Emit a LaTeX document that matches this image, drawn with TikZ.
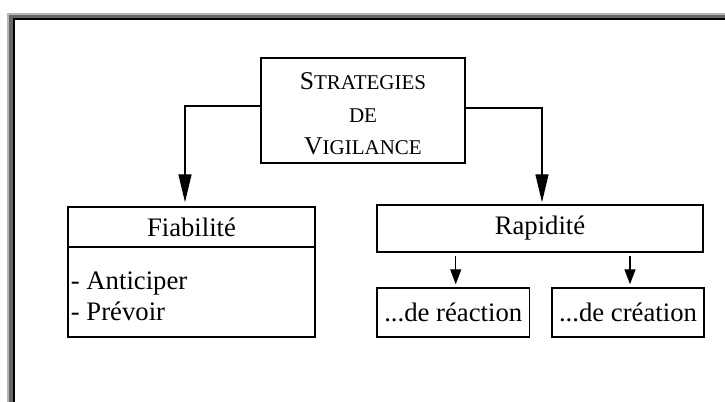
\documentclass[tikz,border=0pt]{standalone}
\usepackage{fontspec}
\setmainfont{Liberation Serif}
\usetikzlibrary{arrows.meta,calc}
\definecolor{frameLight}{RGB}{182,182,182}
\definecolor{frameDark}{RGB}{102,102,102}
\newcommand{\capl}[1]{{\fontsize{12.8}{16.3}\selectfont #1}}

\begin{document}
\begin{tikzpicture}[x=0.5pt, y=-0.5pt]
        \tikzset{box/.style = {draw, line width=0.75pt, inner sep=0pt, font=\fontsize{13.35}{15.4}\selectfont}}
        \tikzset{edge/.style = {-{Triangle[length=14pt,width=6.5pt]}, line width=0.7pt}}
        \tikzset{shortedge/.style = {-{Triangle[length=7.5pt,width=5.5pt]}, line width=0.7pt}}
        \useasboundingbox (0,0) rectangle (725,402);
        \clip (0,0) rectangle (725,402);
        % frame
        \draw[frameLight, line width=1.25pt] (8,410) -- (8,13.75) -- (735,13.75);
        \draw[frameDark, line width=1.9pt] (11,410) -- (11,16.5) -- (735,16.5);
        \draw[black, line width=1pt] (14,410) -- (14,19) -- (735,19);
        % vertices
        \node[box, minimum width=102pt, minimum height=52.5pt] (strat) at (363,110.5) {};
        \node[align=center, inner sep=0pt, font=\fontsize{10.5}{16.3}\selectfont] (stratlabel) at (363,114) {\capl{S}TRATEGIES\\DE\\\capl{V}IGILANCE};
        \node[box, minimum width=123.5pt, minimum height=20pt] (fiab) at (191.5,227) {Fiabilité};
        \node[box, minimum width=123.5pt, minimum height=45pt] (fiabbody) at (191.5,292) {};
        \node[anchor=west, align=left, inner sep=0pt, font=\fontsize{13.35}{15.4}\selectfont] (fiablist) at (70.5,296) {- Anticiper\\- Prévoir};
        \node[box, minimum width=163pt, minimum height=23.5pt] (rapid) at (540,228.5) {Rapidité};
        \node[box, minimum width=76.25pt, minimum height=24.5pt] (react) at (453.25,312.5) {...de réaction};
        \node[box, minimum width=76pt, minimum height=24.5pt] (creat) at (628,312.5) {...de création};
        %edges
        \draw[edge] ($(strat.west)+(0,-4.5)$) -| ($(fiab.north)+(-6.5,-4)$);
        \draw[edge] ($(strat.east)+(0,-2.5)$) -| ($(rapid.north)+(2,-2)$);
        \draw[shortedge] ($(rapid.south -| react.north)+(2.5,3)$) -- ($(react.north)+(2.5,-3)$);
        \draw[shortedge] ($(rapid.south -| creat.north)+(2,3)$) -- ($(creat.north)+(2,-3)$);
\end{tikzpicture}
\end{document}
